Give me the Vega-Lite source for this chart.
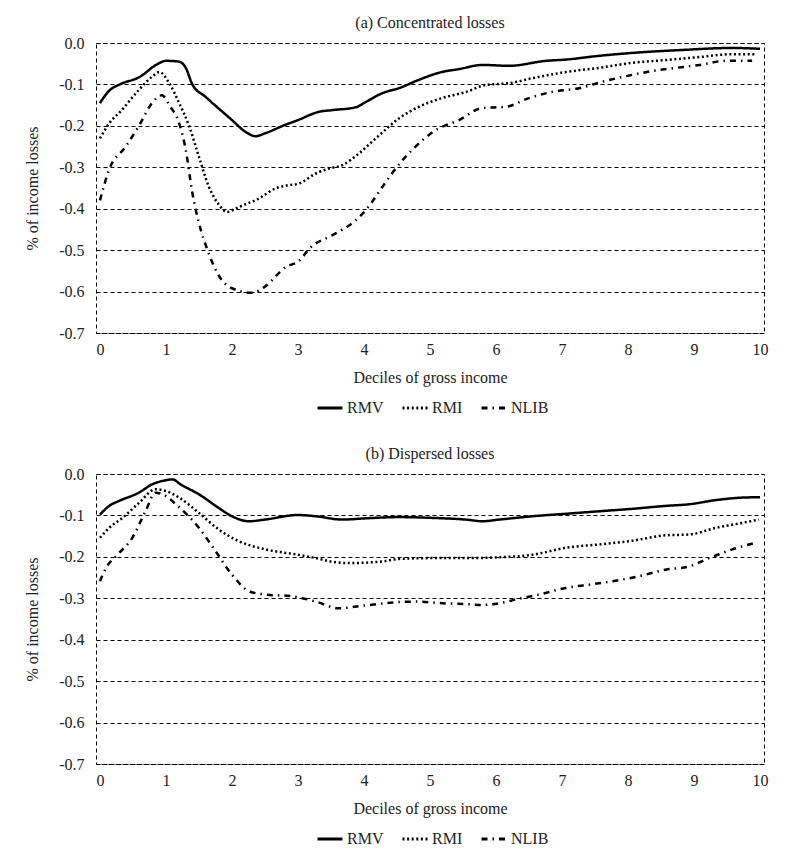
{
  "$schema": "https://vega.github.io/schema/vega-lite/v6.json",
  "padding": {"left": 24, "top": 14, "right": 26, "bottom": 5},
  "background": "white",
  "config": {
    "font": "'Liberation Serif', 'Times New Roman', 'DejaVu Serif', serif",
    "view": {"stroke": "black", "strokeDash": [4, 3], "strokeWidth": 1},
    "axis": {
      "labelFont": "'Liberation Serif', 'Times New Roman', 'DejaVu Serif', serif",
      "labelFontSize": 16,
      "labelColor": "#222",
      "titleFont": "'Liberation Serif', 'Times New Roman', 'DejaVu Serif', serif",
      "titleFontSize": 16,
      "titleFontWeight": "normal",
      "titleColor": "#222",
      "domain": false,
      "ticks": false
    },
    "title": {"font": "'Liberation Serif', 'Times New Roman', 'DejaVu Serif', serif", "fontSize": 16, "fontWeight": "normal", "color": "#222", "offset": 4},
    "legend": {"labelFont": "'Liberation Serif', 'Times New Roman', 'DejaVu Serif', serif", "labelFontSize": 16, "labelColor": "#222"},
    "concat": {"spacing": 28}
  },
  "datasets": {
    "concentrated": [
      {"series": "RMV", "decile": 0, "loss": -0.145},
      {"series": "RMV", "decile": 0.14, "loss": -0.115},
      {"series": "RMV", "decile": 0.3, "loss": -0.1},
      {"series": "RMV", "decile": 0.6, "loss": -0.082},
      {"series": "RMV", "decile": 0.85, "loss": -0.053},
      {"series": "RMV", "decile": 1.0, "loss": -0.043},
      {"series": "RMV", "decile": 1.2, "loss": -0.045},
      {"series": "RMV", "decile": 1.3, "loss": -0.06},
      {"series": "RMV", "decile": 1.4, "loss": -0.1},
      {"series": "RMV", "decile": 1.6, "loss": -0.13},
      {"series": "RMV", "decile": 2.0, "loss": -0.186},
      {"series": "RMV", "decile": 2.2, "loss": -0.214},
      {"series": "RMV", "decile": 2.36, "loss": -0.225},
      {"series": "RMV", "decile": 2.5, "loss": -0.218},
      {"series": "RMV", "decile": 2.8, "loss": -0.198},
      {"series": "RMV", "decile": 3.0, "loss": -0.186},
      {"series": "RMV", "decile": 3.32, "loss": -0.166},
      {"series": "RMV", "decile": 3.52, "loss": -0.162},
      {"series": "RMV", "decile": 3.88, "loss": -0.155},
      {"series": "RMV", "decile": 4.03, "loss": -0.142},
      {"series": "RMV", "decile": 4.28, "loss": -0.121},
      {"series": "RMV", "decile": 4.53, "loss": -0.109},
      {"series": "RMV", "decile": 4.83, "loss": -0.089},
      {"series": "RMV", "decile": 5.18, "loss": -0.07},
      {"series": "RMV", "decile": 5.44, "loss": -0.063},
      {"series": "RMV", "decile": 5.79, "loss": -0.053},
      {"series": "RMV", "decile": 6.2, "loss": -0.055},
      {"series": "RMV", "decile": 6.76, "loss": -0.043},
      {"series": "RMV", "decile": 7.06, "loss": -0.04},
      {"series": "RMV", "decile": 7.56, "loss": -0.031},
      {"series": "RMV", "decile": 8.06, "loss": -0.024},
      {"series": "RMV", "decile": 8.8, "loss": -0.017},
      {"series": "RMV", "decile": 9.58, "loss": -0.012},
      {"series": "RMV", "decile": 10, "loss": -0.014},
      {"series": "RMI", "decile": 0, "loss": -0.23},
      {"series": "RMI", "decile": 0.14, "loss": -0.194},
      {"series": "RMI", "decile": 0.33, "loss": -0.162},
      {"series": "RMI", "decile": 0.59, "loss": -0.113},
      {"series": "RMI", "decile": 0.8, "loss": -0.08},
      {"series": "RMI", "decile": 0.9, "loss": -0.07},
      {"series": "RMI", "decile": 1.05, "loss": -0.097},
      {"series": "RMI", "decile": 1.2, "loss": -0.145},
      {"series": "RMI", "decile": 1.35, "loss": -0.2},
      {"series": "RMI", "decile": 1.5, "loss": -0.275},
      {"series": "RMI", "decile": 1.65, "loss": -0.347},
      {"series": "RMI", "decile": 1.8, "loss": -0.39},
      {"series": "RMI", "decile": 1.92, "loss": -0.408},
      {"series": "RMI", "decile": 2.1, "loss": -0.396},
      {"series": "RMI", "decile": 2.41, "loss": -0.375},
      {"series": "RMI", "decile": 2.66, "loss": -0.351},
      {"series": "RMI", "decile": 2.86, "loss": -0.343},
      {"series": "RMI", "decile": 3.0, "loss": -0.34},
      {"series": "RMI", "decile": 3.27, "loss": -0.315},
      {"series": "RMI", "decile": 3.47, "loss": -0.303},
      {"series": "RMI", "decile": 3.67, "loss": -0.295},
      {"series": "RMI", "decile": 3.92, "loss": -0.267},
      {"series": "RMI", "decile": 4.18, "loss": -0.23},
      {"series": "RMI", "decile": 4.53, "loss": -0.182},
      {"series": "RMI", "decile": 4.83, "loss": -0.154},
      {"series": "RMI", "decile": 5.18, "loss": -0.133},
      {"series": "RMI", "decile": 5.55, "loss": -0.118},
      {"series": "RMI", "decile": 5.85, "loss": -0.101},
      {"series": "RMI", "decile": 6.2, "loss": -0.097},
      {"series": "RMI", "decile": 6.55, "loss": -0.085},
      {"series": "RMI", "decile": 7.06, "loss": -0.07},
      {"series": "RMI", "decile": 7.56, "loss": -0.06},
      {"series": "RMI", "decile": 8.06, "loss": -0.048},
      {"series": "RMI", "decile": 8.58, "loss": -0.041},
      {"series": "RMI", "decile": 9.08, "loss": -0.034},
      {"series": "RMI", "decile": 9.58, "loss": -0.027},
      {"series": "RMI", "decile": 9.95, "loss": -0.027},
      {"series": "NLIB", "decile": 0, "loss": -0.38},
      {"series": "NLIB", "decile": 0.14, "loss": -0.305},
      {"series": "NLIB", "decile": 0.39, "loss": -0.25},
      {"series": "NLIB", "decile": 0.59, "loss": -0.2},
      {"series": "NLIB", "decile": 0.79, "loss": -0.145},
      {"series": "NLIB", "decile": 0.94, "loss": -0.126},
      {"series": "NLIB", "decile": 1.05, "loss": -0.15},
      {"series": "NLIB", "decile": 1.2, "loss": -0.194},
      {"series": "NLIB", "decile": 1.3, "loss": -0.258},
      {"series": "NLIB", "decile": 1.4, "loss": -0.362},
      {"series": "NLIB", "decile": 1.5, "loss": -0.435},
      {"series": "NLIB", "decile": 1.63, "loss": -0.5},
      {"series": "NLIB", "decile": 1.78, "loss": -0.556},
      {"series": "NLIB", "decile": 2.0, "loss": -0.592},
      {"series": "NLIB", "decile": 2.3, "loss": -0.603},
      {"series": "NLIB", "decile": 2.5, "loss": -0.588},
      {"series": "NLIB", "decile": 2.82, "loss": -0.54},
      {"series": "NLIB", "decile": 3.0, "loss": -0.528},
      {"series": "NLIB", "decile": 3.2, "loss": -0.492},
      {"series": "NLIB", "decile": 3.52, "loss": -0.464},
      {"series": "NLIB", "decile": 3.82, "loss": -0.435},
      {"series": "NLIB", "decile": 4.03, "loss": -0.403},
      {"series": "NLIB", "decile": 4.28, "loss": -0.347},
      {"series": "NLIB", "decile": 4.53, "loss": -0.293},
      {"series": "NLIB", "decile": 4.73, "loss": -0.258},
      {"series": "NLIB", "decile": 5.09, "loss": -0.21},
      {"series": "NLIB", "decile": 5.44, "loss": -0.186},
      {"series": "NLIB", "decile": 5.79, "loss": -0.157},
      {"series": "NLIB", "decile": 6.15, "loss": -0.154},
      {"series": "NLIB", "decile": 6.5, "loss": -0.133},
      {"series": "NLIB", "decile": 6.85, "loss": -0.118},
      {"series": "NLIB", "decile": 7.26, "loss": -0.109},
      {"series": "NLIB", "decile": 7.6, "loss": -0.094},
      {"series": "NLIB", "decile": 7.97, "loss": -0.08},
      {"series": "NLIB", "decile": 8.36, "loss": -0.068},
      {"series": "NLIB", "decile": 8.73, "loss": -0.06},
      {"series": "NLIB", "decile": 9.08, "loss": -0.053},
      {"series": "NLIB", "decile": 9.48, "loss": -0.043},
      {"series": "NLIB", "decile": 9.88, "loss": -0.043}
    ],
    "dispersed": [
      {"series": "RMV", "decile": 0, "loss": -0.098},
      {"series": "RMV", "decile": 0.14, "loss": -0.077},
      {"series": "RMV", "decile": 0.29, "loss": -0.065},
      {"series": "RMV", "decile": 0.59, "loss": -0.045},
      {"series": "RMV", "decile": 0.79, "loss": -0.025},
      {"series": "RMV", "decile": 1.0, "loss": -0.015},
      {"series": "RMV", "decile": 1.1, "loss": -0.013},
      {"series": "RMV", "decile": 1.22, "loss": -0.025},
      {"series": "RMV", "decile": 1.5, "loss": -0.049},
      {"series": "RMV", "decile": 1.8, "loss": -0.082},
      {"series": "RMV", "decile": 2.0, "loss": -0.102},
      {"series": "RMV", "decile": 2.26, "loss": -0.114},
      {"series": "RMV", "decile": 2.5, "loss": -0.11},
      {"series": "RMV", "decile": 3.0, "loss": -0.099},
      {"series": "RMV", "decile": 3.27, "loss": -0.102},
      {"series": "RMV", "decile": 3.67, "loss": -0.11},
      {"series": "RMV", "decile": 4.03, "loss": -0.107},
      {"series": "RMV", "decile": 4.53, "loss": -0.104},
      {"series": "RMV", "decile": 5.04, "loss": -0.106},
      {"series": "RMV", "decile": 5.54, "loss": -0.11},
      {"series": "RMV", "decile": 5.79, "loss": -0.114},
      {"series": "RMV", "decile": 6.05, "loss": -0.11},
      {"series": "RMV", "decile": 6.55, "loss": -0.102},
      {"series": "RMV", "decile": 7.06, "loss": -0.096},
      {"series": "RMV", "decile": 7.56, "loss": -0.09},
      {"series": "RMV", "decile": 8.07, "loss": -0.084},
      {"series": "RMV", "decile": 8.57, "loss": -0.077},
      {"series": "RMV", "decile": 8.93, "loss": -0.073},
      {"series": "RMV", "decile": 9.33, "loss": -0.063},
      {"series": "RMV", "decile": 9.73, "loss": -0.057},
      {"series": "RMV", "decile": 10, "loss": -0.056},
      {"series": "RMI", "decile": 0, "loss": -0.154},
      {"series": "RMI", "decile": 0.14, "loss": -0.13},
      {"series": "RMI", "decile": 0.34, "loss": -0.106},
      {"series": "RMI", "decile": 0.59, "loss": -0.07},
      {"series": "RMI", "decile": 0.84, "loss": -0.037},
      {"series": "RMI", "decile": 1.0, "loss": -0.041},
      {"series": "RMI", "decile": 1.2, "loss": -0.057},
      {"series": "RMI", "decile": 1.5, "loss": -0.094},
      {"series": "RMI", "decile": 1.8, "loss": -0.134},
      {"series": "RMI", "decile": 2.1, "loss": -0.162},
      {"series": "RMI", "decile": 2.51, "loss": -0.182},
      {"series": "RMI", "decile": 3.0, "loss": -0.195},
      {"series": "RMI", "decile": 3.27, "loss": -0.203},
      {"series": "RMI", "decile": 3.52, "loss": -0.212},
      {"series": "RMI", "decile": 3.77, "loss": -0.215},
      {"series": "RMI", "decile": 4.28, "loss": -0.211},
      {"series": "RMI", "decile": 4.53, "loss": -0.205},
      {"series": "RMI", "decile": 5.04, "loss": -0.203},
      {"series": "RMI", "decile": 5.54, "loss": -0.203},
      {"series": "RMI", "decile": 6.05, "loss": -0.201},
      {"series": "RMI", "decile": 6.55, "loss": -0.195},
      {"series": "RMI", "decile": 7.06, "loss": -0.178},
      {"series": "RMI", "decile": 7.56, "loss": -0.17},
      {"series": "RMI", "decile": 8.07, "loss": -0.161},
      {"series": "RMI", "decile": 8.57, "loss": -0.148},
      {"series": "RMI", "decile": 8.93, "loss": -0.146},
      {"series": "RMI", "decile": 9.33, "loss": -0.13},
      {"series": "RMI", "decile": 9.73, "loss": -0.118},
      {"series": "RMI", "decile": 9.98, "loss": -0.11},
      {"series": "NLIB", "decile": 0, "loss": -0.259},
      {"series": "NLIB", "decile": 0.09, "loss": -0.227},
      {"series": "NLIB", "decile": 0.24, "loss": -0.199},
      {"series": "NLIB", "decile": 0.49, "loss": -0.154},
      {"series": "NLIB", "decile": 0.69, "loss": -0.09},
      {"series": "NLIB", "decile": 0.84, "loss": -0.045},
      {"series": "NLIB", "decile": 1.0, "loss": -0.053},
      {"series": "NLIB", "decile": 1.15, "loss": -0.073},
      {"series": "NLIB", "decile": 1.5, "loss": -0.13},
      {"series": "NLIB", "decile": 1.75, "loss": -0.186},
      {"series": "NLIB", "decile": 2.0, "loss": -0.243},
      {"series": "NLIB", "decile": 2.26, "loss": -0.283},
      {"series": "NLIB", "decile": 2.51, "loss": -0.291},
      {"series": "NLIB", "decile": 2.91, "loss": -0.295},
      {"series": "NLIB", "decile": 3.27, "loss": -0.308},
      {"series": "NLIB", "decile": 3.62, "loss": -0.324},
      {"series": "NLIB", "decile": 4.03, "loss": -0.317},
      {"series": "NLIB", "decile": 4.53, "loss": -0.309},
      {"series": "NLIB", "decile": 4.78, "loss": -0.308},
      {"series": "NLIB", "decile": 5.19, "loss": -0.312},
      {"series": "NLIB", "decile": 5.54, "loss": -0.314},
      {"series": "NLIB", "decile": 5.79, "loss": -0.316},
      {"series": "NLIB", "decile": 6.05, "loss": -0.312},
      {"series": "NLIB", "decile": 6.3, "loss": -0.303},
      {"series": "NLIB", "decile": 6.65, "loss": -0.291},
      {"series": "NLIB", "decile": 7.06, "loss": -0.275},
      {"series": "NLIB", "decile": 7.41, "loss": -0.267},
      {"series": "NLIB", "decile": 7.76, "loss": -0.259},
      {"series": "NLIB", "decile": 8.16, "loss": -0.247},
      {"series": "NLIB", "decile": 8.57, "loss": -0.231},
      {"series": "NLIB", "decile": 8.93, "loss": -0.223},
      {"series": "NLIB", "decile": 9.23, "loss": -0.203},
      {"series": "NLIB", "decile": 9.58, "loss": -0.182},
      {"series": "NLIB", "decile": 9.93, "loss": -0.166}
    ]
  },
  "vconcat": [
    {
      "title": "(a) Concentrated losses",
      "width": 668,
      "height": 290,
      "data": {"name": "concentrated"},
      "mark": {"type": "line", "interpolate": "monotone", "color": "black", "strokeWidth": 2.5, "strokeCap": "butt"},
      "encoding": {
        "x": {
          "field": "decile",
          "type": "quantitative",
          "scale": {"domain": [-0.06, 10.06], "nice": false, "zero": false},
          "axis": {"values": [0, 1, 2, 3, 4, 5, 6, 7, 8, 9, 10], "format": "d", "grid": false, "labelPadding": 8, "titlePadding": 12, "title": "Deciles of gross income"}
        },
        "y": {
          "field": "loss",
          "type": "quantitative",
          "scale": {"domain": [-0.7, 0], "nice": false},
          "axis": {
            "values": [0, -0.1, -0.2, -0.3, -0.4, -0.5, -0.6, -0.7],
            "labelExpr": "replace(format(datum.value, '.1f'), '\u2212', '-')",
            "grid": true, "gridColor": "black", "gridDash": [4, 3], "gridOpacity": 1,
            "labelPadding": 12, "titlePadding": 18,
            "title": "% of income losses"
          }
        },
        "strokeDash": {
          "field": "series",
          "type": "nominal",
          "scale": {"domain": ["RMV", "RMI", "NLIB"], "range": [[1, 0], [2, 2.6], [6, 5, 1.5, 5]]},
          "legend": {
            "title": null, "orient": "none", "direction": "horizontal",
            "legendX": 220, "legendY": 351,
            "symbolType": "stroke", "symbolSize": 625, "symbolStrokeWidth": 3, "symbolStrokeColor": "black",
            "columnPadding": 12, "labelOffset": 3
          }
        }
      }
    },
    {
      "title": "(b) Dispersed losses",
      "width": 668,
      "height": 290,
      "data": {"name": "dispersed"},
      "mark": {"type": "line", "interpolate": "monotone", "color": "black", "strokeWidth": 2.5, "strokeCap": "butt"},
      "encoding": {
        "x": {
          "field": "decile",
          "type": "quantitative",
          "scale": {"domain": [-0.06, 10.06], "nice": false, "zero": false},
          "axis": {"values": [0, 1, 2, 3, 4, 5, 6, 7, 8, 9, 10], "format": "d", "grid": false, "labelPadding": 8, "titlePadding": 12, "title": "Deciles of gross income"}
        },
        "y": {
          "field": "loss",
          "type": "quantitative",
          "scale": {"domain": [-0.7, 0], "nice": false},
          "axis": {
            "values": [0, -0.1, -0.2, -0.3, -0.4, -0.5, -0.6, -0.7],
            "labelExpr": "replace(format(datum.value, '.1f'), '\u2212', '-')",
            "grid": true, "gridColor": "black", "gridDash": [4, 3], "gridOpacity": 1,
            "labelPadding": 12, "titlePadding": 18,
            "title": "% of income losses"
          }
        },
        "strokeDash": {
          "field": "series",
          "type": "nominal",
          "scale": {"domain": ["RMV", "RMI", "NLIB"], "range": [[1, 0], [2, 2.6], [6, 5, 1.5, 5]]},
          "legend": {
            "title": null, "orient": "none", "direction": "horizontal",
            "legendX": 220, "legendY": 351,
            "symbolType": "stroke", "symbolSize": 625, "symbolStrokeWidth": 3, "symbolStrokeColor": "black",
            "columnPadding": 12, "labelOffset": 3
          }
        }
      }
    }
  ],
  "resolve": {"legend": {"strokeDash": "independent"}, "scale": {"strokeDash": "independent"}}
}
